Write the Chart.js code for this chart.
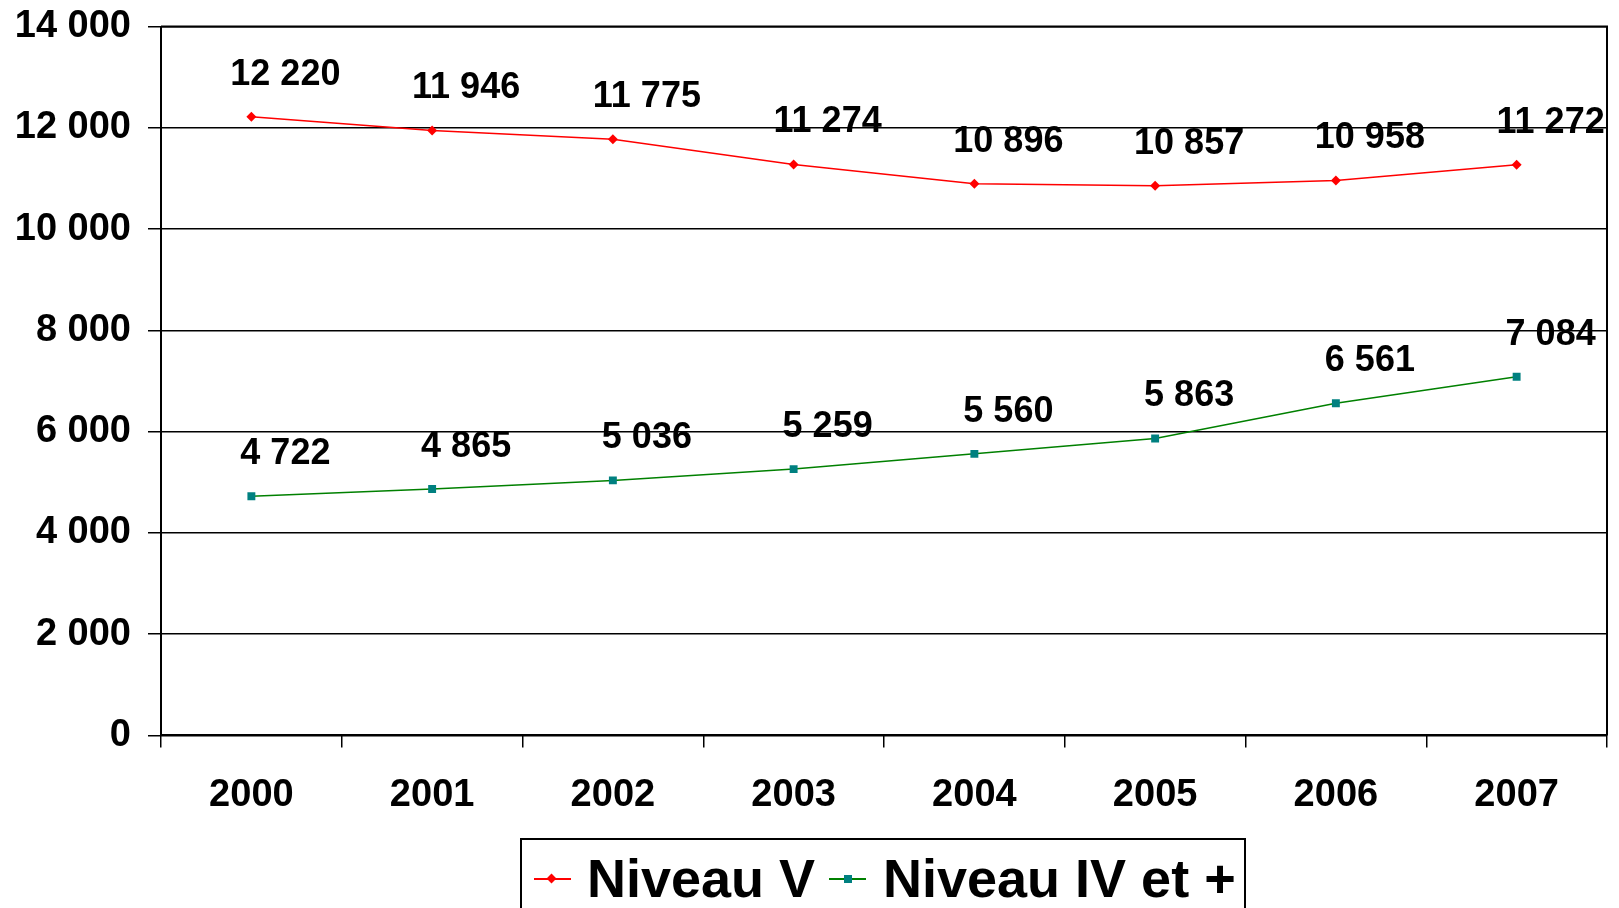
<!DOCTYPE html>
<html>
<head>
<meta charset="utf-8">
<script src="https://cdn.jsdelivr.net/npm/chart.js@4/dist/chart.umd.min.js"></script>
<style>
  html, body { margin: 0; padding: 0; background: #fff; overflow: hidden; }
  #wrap { position: relative; width: 1619px; height: 908px; }
  #legendBox {
    position: absolute; left: 520px; top: 838px; width: 726px; height: 100px;
    border: 2px solid #000; box-sizing: border-box; background: #fff;
  }
  .txt {
    position: absolute; top: 851px; line-height: 54px;
    font-family: "Liberation Sans", Arial, sans-serif;
    font-weight: bold; font-size: 54px; color: #000; white-space: nowrap;
  }
  .ln { position: absolute; top: 878px; height: 2px; width: 37px; }
  .pt { position: absolute; width: 8px; height: 8px; top: 875px; }
</style>
</head>
<body>
<div id="wrap">
  <canvas id="mycanvas" width="1619" height="908"></canvas>
  <div id="legendBox"></div>
  <div class="ln" style="left:534px;background:#ff0000"></div>
  <div class="pt" style="left:548px;background:#ff0000;transform:rotate(45deg);width:7px;height:7px;top:875px"></div>
  <div class="txt" style="left:587px">Niveau V</div>
  <div class="ln" style="left:829px;background:#008000"></div>
  <div class="pt" style="left:844px;background:#008080"></div>
  <div class="txt" style="left:883px">Niveau IV et +</div>
</div>
<script>
var years = ['2000', '2001', '2002', '2003', '2004', '2005', '2006', '2007'];
var niveauV = [12220, 11946, 11775, 11274, 10896, 10857, 10958, 11272];
var niveauIV = [4722, 4865, 5036, 5259, 5560, 5863, 6561, 7084];
var yTicks = [0, 2000, 4000, 6000, 8000, 10000, 12000, 14000];

var fmt = function(v) {
  return String(v).replace(/\B(?=(\d{3})+(?!\d))/g, ' ');
};

var FONT = '"Liberation Sans", Arial, sans-serif';

// cadre de la zone de tracé
var frame = {
  id: 'frame',
  afterDraw: function(chart) {
    var a = chart.chartArea, c = chart.ctx;
    c.save();
    c.strokeStyle = '#000';
    c.lineWidth = 2;
    c.beginPath();
    c.moveTo(a.left, a.top);
    c.lineTo(a.right, a.top);
    c.lineTo(a.right, a.bottom);
    c.stroke();
    c.restore();
  }
};

// étiquettes de valeurs au-dessus des points
var valueLabels = {
  id: 'valueLabels',
  afterDatasetsDraw: function(chart) {
    var c = chart.ctx;
    c.save();
    c.font = 'bold 36px ' + FONT;
    c.fillStyle = '#000';
    c.textAlign = 'center';
    c.textBaseline = 'middle';
    chart.data.datasets.forEach(function(ds, i) {
      chart.getDatasetMeta(i).data.forEach(function(pt, j) {
        c.fillText(fmt(ds.data[j]), pt.x + 34, pt.y - 42);
      });
    });
    c.restore();
  }
};

var ctx = document.getElementById('mycanvas');
var chart = new Chart(ctx, {
  type: 'line',
  data: {
    labels: years,
    datasets: [
      {
        label: 'Niveau V',
        data: niveauV,
        borderColor: '#ff0000',
        backgroundColor: '#ff0000',
        borderWidth: 1.5,
        pointStyle: 'rectRot',
        pointRadius: 5,
        pointBorderWidth: 0,
        tension: 0
      },
      {
        label: 'Niveau IV et +',
        data: niveauIV,
        borderColor: '#008000',
        backgroundColor: '#008080',
        borderWidth: 1.5,
        pointStyle: 'rect',
        pointRadius: 5.6,
        pointBorderWidth: 0,
        tension: 0
      }
    ]
  },
  options: {
    responsive: false,
    animation: false,
    layout: { padding: { top: 0, right: 12, bottom: 65, left: 0 } },
    plugins: {
      legend: { display: false },
      tooltip: { enabled: false }
    },
    scales: {
      x: {
        offset: true,
        grid: { offset: true, drawOnChartArea: false, drawTicks: true, tickLength: 12, color: '#000', lineWidth: 1.5 },
        border: { color: '#000', width: 2 },
        ticks: { color: '#000', font: { family: FONT, size: 38, weight: 'bold' }, padding: 25, maxRotation: 0 }
      },
      y: {
        min: 0,
        max: 14000,
        afterBuildTicks: function(axis) {
          axis.ticks = yTicks.map(function(v) { return { value: v }; });
        },
        afterFit: function(axis) { axis.width = 161; },
        grid: { color: '#000', lineWidth: 1.5, tickLength: 13 },
        border: { color: '#000', width: 2 },
        ticks: {
          color: '#000',
          font: { family: FONT, size: 38, weight: 'bold', lineHeight: 0.5 },
          padding: 17,
          callback: function(v) { return fmt(v); }
        }
      }
    }
  },
  plugins: [frame, valueLabels]
});
</script>
</body>
</html>
